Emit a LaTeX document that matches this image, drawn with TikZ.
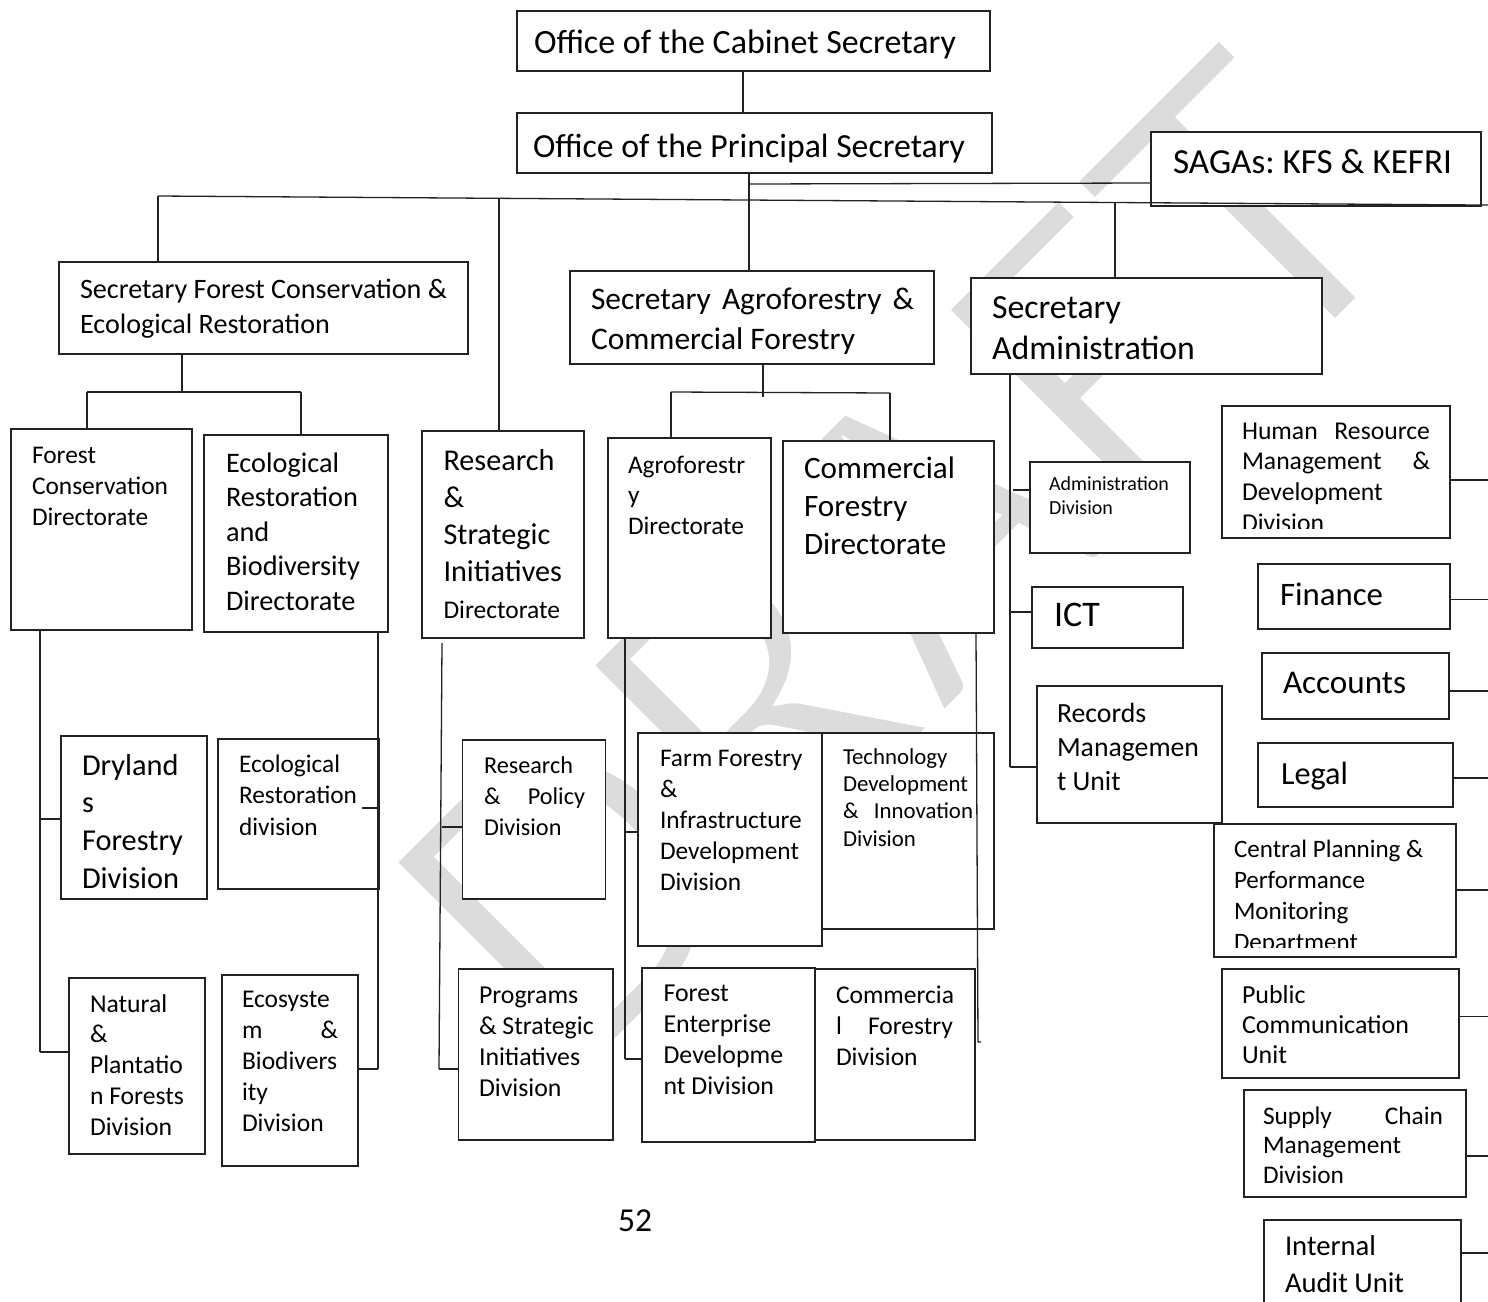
\documentclass[tikz,border=0pt]{standalone}
\usepackage{fontspec}
\setmainfont{Carlito}
\frenchspacing
\newlength\fitlen
\newcommand\fitfont[3]{%
  \settowidth\fitlen{\fontsize{10pt}{12pt}\selectfont #1}%
  \pgfmathsetmacro\fitsz{10*#2/\fitlen}%
  \fontsize{\fitsz pt}{#3pt}\selectfont}
\definecolor{wmgray}{HTML}{DCDCDC}
\definecolor{ink}{HTML}{222222}
\tikzset{
  bx/.style={draw=ink, fill=white, line width=1.3pt, inner sep=0pt, outer sep=0pt},
  txt/.style={inner sep=0pt, outer sep=0pt, anchor=base west, text=black,
    execute at begin node={\spaceskip=0pt\xspaceskip=0pt\rightskip=0pt plus 1fil\relax\hyphenpenalty=10000\exhyphenpenalty=10000\frenchspacing}},
  fit font/.style n args={3}{font={\fitfont{#1}{#2}{#3}}},
  conn/.style={draw=ink, line width=1.3pt},
}
\newcommand\bx[5]{\node[bx, minimum width={(#4-#2)*1pt}, minimum height={(#5-#3)*1pt}] (#1) at ({(#2+#4)/2},{(#3+#5)/2}) {};}
\begin{document}
\begin{tikzpicture}[x=1pt,y=-1pt]
\useasboundingbox (0,0) rectangle (1488,1301);
\clip (0,0) rectangle (1488,1301);
% watermark
\node[rotate=45, anchor=base east, text=wmgray, font=\fontsize{450pt}{450pt}\selectfont, inner sep=0pt] (wm) at (1427,234) {\special{pdf:literal direct 2 Tr 1 G 11 w}DRAFT\special{pdf:literal direct 0 Tr 1 w}};

% ---------- boxes ----------
\bx{cab}{517}{11}{990}{71}
\bx{ps}{517}{113}{992}{173}
\bx{saga}{1151}{132}{1481}{206}
\bx{sfc}{59}{262}{468}{354}
\bx{sac}{570}{271}{934}{364}
\bx{sad}{971}{278}{1322}{374}
\bx{fcd}{11}{429}{192}{630}
\bx{erbd}{204}{435}{388}{632}
\bx{rsid}{422}{431}{584}{638}
\bx{agd}{608}{438}{771}{638}
\bx{cfd}{783}{441}{994}{633}
\bx{add}{1030}{462}{1190}{553}
\bx{ict}{1032}{587}{1183}{648}
\bx{rmu}{1037}{686}{1222}{823}
\bx{hr}{1222}{406}{1450}{538}
\bx{fin}{1258}{564}{1450}{629}
\bx{acc}{1262}{653}{1449}{719}
\bx{legal}{1258}{743}{1453}{807}
\bx{cpp}{1214}{824}{1456}{957}
\bx{pcu}{1222}{969}{1459}{1078}
\bx{scm}{1244}{1090}{1466}{1197}
\bx{iau}{1264}{1220}{1461}{1320}
\bx{dry}{61}{736}{207}{899}
\bx{npf}{69}{978}{205}{1154}
\bx{erd}{218}{739}{379}{889}
\bx{ebd}{222}{975}{358}{1166}
\bx{rpd}{462.5}{740}{605.5}{899}
\bx{psi}{458.5}{969}{613}{1140}
\bx{ffid}{638}{733}{822}{946}
\bx{tdi}{822}{733}{994}{929}
\bx{fed}{642}{968}{815}{1142}
\bx{cfdiv}{815}{969}{975}{1140}

% ---------- texts ----------
\node[txt, text width=453pt, fit font={Office of the Cabinet Secretary}{422}{40}] (cab-t) at (534,53) {Office of the Cabinet Secretary};
\node[txt, text width=456pt, fit font={Office of the Principal Secretary}{432}{40}] (ps-t) at (533,157) {Office of the Principal Secretary};
\node[txt, text width=305pt, fit font={SAGAs: KFS \& KEFRI}{279}{40}] (saga-t) at (1173,173) {SAGAs: KFS \& KEFRI};
\node[txt, text width=385pt, fit font={Secretary Forest Conservation \&}{367}{35}] (sfc-t) at (80,298) {Secretary Forest Conservation \&\\Ecological Restoration};
\node[txt, text width=323pt, fit font={Commercial Forestry}{264}{40}] (sac-t) at (591,309) {Secretary\hfill Agroforestry\hfill\&\\Commercial Forestry};
\node[txt, text width=327pt, fit font={Administration}{203}{41}] (sad-t) at (992,318) {Secretary\\Administration};
\node[txt, text width=157pt, fit font={Conservation}{136}{31}] (fcd-t) at (32,463) {Forest\\Conservation\\Directorate};
\node[txt, text width=159pt, fit font={Biodiversity}{134}{34.5}] (erbd-t) at (226,472) {Ecological\\Restoration\\and\\Biodiversity\\Directorate};
\node[txt, text width=137pt, fit font={Initiatives}{118.5}{37}] (rsid-t) at (443.5,470) {Research\\\&\\Strategic\\Initiatives\\\fitfont{Directorate}{116.5}{37}Directorate};
\node[txt, text width=140pt, fit font={Directorate}{116}{30.5}] (agd-t) at (628,473) {Agroforestr\\y\\Directorate};
\node[txt, text width=187pt, fit font={Commercial}{151}{38}] (cfd-t) at (804,478) {Commercial\\Forestry\\Directorate};
\node[txt, text width=138pt, fit font={Administration}{120}{24}] (add-t) at (1049,490) {Administration\\Division};
\node[txt, text width=126pt, fit font={ICT}{46}{30}] (ict-t) at (1054,626) {ICT};
\node[txt, text width=162pt, fit font={Managemen}{142}{34}] (rmu-t) at (1057,722) {Records\\Managemen\\t Unit};
\begin{scope}
\clip (1222,406) rectangle (1450,528);
\node[txt, text width=188pt, fit font={Development}{140.6}{30.7}] (hr-t) at (1242,439) {Human\hfill Resource\\Management\hfill\&\\Development\\Division};
\end{scope}
\node[txt, text width=167pt, fit font={Finance}{103}{30}] (fin-t) at (1280,605) {Finance};
\node[txt, text width=163pt, fit font={Accounts}{123}{30}] (acc-t) at (1283,693) {Accounts};
\node[txt, text width=169pt, fit font={Legal}{67}{30}] (legal-t) at (1281,784) {Legal};
\begin{scope}
\clip (1214,824) rectangle (1456,947);
\node[txt, text width=219pt, fit font={Performance}{131}{31}] (cpp-t) at (1234,857) {Central Planning \&\\Performance\\Monitoring\\Department};
\end{scope}
\node[txt, text width=214pt, fit font={Communication}{167}{30}] (pcu-t) at (1242,1003) {Public\\Communication\\Unit};
\node[txt, text width=180pt, fit font={Management}{138}{29.5}] (scm-t) at (1263,1124) {Supply\hfill Chain\\Management\\Division};
\node[txt, text width=173pt, fit font={Audit Unit}{119}{37}] (iau-t) at (1285,1255) {Internal\\Audit Unit};
\node[txt, text width=122pt, fit font={Forestry}{101}{37.7}] (dry-t) at (82,775) {Dryland\\s\\Forestry\\Division};
\node[txt, text width=112pt, fit font={n Forests}{94}{30.8}] (npf-t) at (90,1012) {Natural\\\&\\Plantatio\\n Forests\\Division};
\node[txt, text width=137pt, fit font={Restoration}{118}{31.5}] (erd-t) at (239,772) {Ecological\\Restoration\\division};
\node[txt, text width=96pt, fit font={Biodivers}{95}{30.9}] (ebd-t) at (242,1007.5) {Ecosyste\\m\hfill\&\\Biodivers\\ity\\Division};
\node[txt, text width=101pt, fit font={Research}{89}{31.3}] (rpd-t) at (484,773) {Research\\\&\hfill Policy\\Division};
\node[txt, text width=131pt, fit font={\& Strategic}{114.7}{31}] (psi-t) at (479,1003) {Programs\\\& Strategic\\Initiatives\\Division};
\node[txt, text width=159pt, fit font={Development}{139}{30.9}] (ffid-t) at (660,766.5) {Farm Forestry\\\&\\Infrastructure\\Development\\Division};
\node[txt, text width=130pt, fit font={Development}{125}{27.4}] (tdi-t) at (843,764) {Technology\\Development\\\&\hfill Innovation\\Division};
\node[txt, text width=148pt, fit font={Developme}{119.5}{31}] (fed-t) at (663.6,1001) {Forest\\Enterprise\\Developme\\nt Division};
\node[txt, text width=117pt, fit font={Commercia}{118}{31}] (cfdiv-t) at (836,1003) {Commercia\\l\hfill Forestry\\Division};
\node[txt, text width=40pt, fit font={52}{34}{40}] (pg) at (618,1231) {52};

% ---------- connectors ----------
\coordinate (x743) at (743,0);
\draw[conn] (cab.south -| x743) -- (ps.north -| x743);
\coordinate (t749) at (749,0);
\draw[conn] (ps.south -| t749) -- (sac.north -| t749);
\coordinate (jsaga) at (749,184);
\draw[conn] (jsaga) -- ([yshift=-14pt]saga.west);
% long line
\coordinate (Lw) at (158,196);
\coordinate (Le) at (1495,205.1);
\draw[conn] (Lw) -- (Le);
\draw[conn] (Lw) -- (Lw |- sfc.north);
\coordinate (Lr) at (499,198.3);
\draw[conn] (Lr) -- (Lr |- rsid.north);
\coordinate (La) at (1115,202.5);
\draw[conn] (La) -- (La |- sad.north);
% under sfc
\coordinate (s1) at (182,392);
\coordinate (s1l) at (87,392);
\coordinate (s1r) at (301,392);
\draw[conn] (s1 |- sfc.south) -- (s1);
\draw[conn] (s1l) -- (s1r);
\draw[conn] (s1l) -- (s1l |- fcd.north);
\draw[conn] (s1r) -- (s1r |- erbd.north);
% under sac
\coordinate (s2) at (763,397);
\coordinate (s2l) at (671,392);
\coordinate (s2r) at (890,393);
\draw[conn] (s2 |- sac.south) -- (s2);
\draw[conn] (s2l) -- (s2r);
\draw[conn] (s2l) -- (s2l |- agd.north);
\draw[conn] (s2r) -- (s2r |- cfd.north);
% admin
\coordinate (a0) at (1010,767);
\coordinate (a1) at (1013,490);
\coordinate (a2) at (1011,612);
\draw[conn] (a0 |- sad.south) -- (a0);
\draw[conn] (a1) -- (a1 -| add.west);
\draw[conn] (a2) -- (a2 -| ict.west);
\draw[conn] (a0) -- (a0 -| rmu.west);
% right column to edge
\coordinate (rhr) at (1495,480);
\coordinate (rfin) at (1495,599.5);
\coordinate (racc) at (1495,691);
\coordinate (rlegal) at (1495,778);
\coordinate (rcpp) at (1495,890);
\coordinate (rpcu) at (1495,1016.5);
\coordinate (rscm) at (1495,1156);
\coordinate (riau) at (1495,1253);
\draw[conn] (rhr -| hr.east) -- (rhr);
\draw[conn] (rfin -| fin.east) -- (rfin);
\draw[conn] (racc -| acc.east) -- (racc);
\draw[conn] (rlegal -| legal.east) -- (rlegal);
\draw[conn] (rcpp -| cpp.east) -- (rcpp);
\draw[conn] (rpcu -| pcu.east) -- (rpcu);
\draw[conn] (rscm -| scm.east) -- (rscm);
\draw[conn] (riau -| iau.east) -- (riau);
% forest conservation directorate
\coordinate (f0) at (40,1052);
\coordinate (f1) at (40,819);
\draw[conn] (f0 |- fcd.south) -- (f0);
\draw[conn] (f1) -- (f1 -| dry.west);
\draw[conn] (f0) -- (f0 -| npf.west);
% ecological restoration & biodiversity directorate
\coordinate (e0) at (378,1069);
\coordinate (e1) at (362,808);
\draw[conn] (e0 |- erbd.south) -- (e0);
\draw[conn] (e1) -- (e1 -| erd.east);
\draw[conn] (e0) -- (e0 -| ebd.east);
% research directorate
\coordinate (r0) at (442,643);
\coordinate (r9) at (439,1069);
\coordinate (r1) at (442,827);
\draw[conn] (r0) -- (r9);
\draw[conn] (r1) -- (r1 -| rpd.west);
\draw[conn] (r9) -- (r9 -| psi.west);
% agroforestry directorate
\coordinate (g0) at (625,1059);
\coordinate (g1) at (625,832);
\draw[conn] (g0 |- agd.south) -- (g0);
\draw[conn] (g1) -- (g1 -| ffid.west);
\draw[conn] (g0) -- (g0 -| fed.west);
% commercial forestry directorate
\coordinate (c0) at (976,0);
\coordinate (c9) at (978,1042);
\coordinate (c9e) at (981,1042);
\draw[conn] (cfd.south -| c0) -- (c9) -- (c9e);
\end{tikzpicture}
\end{document}
